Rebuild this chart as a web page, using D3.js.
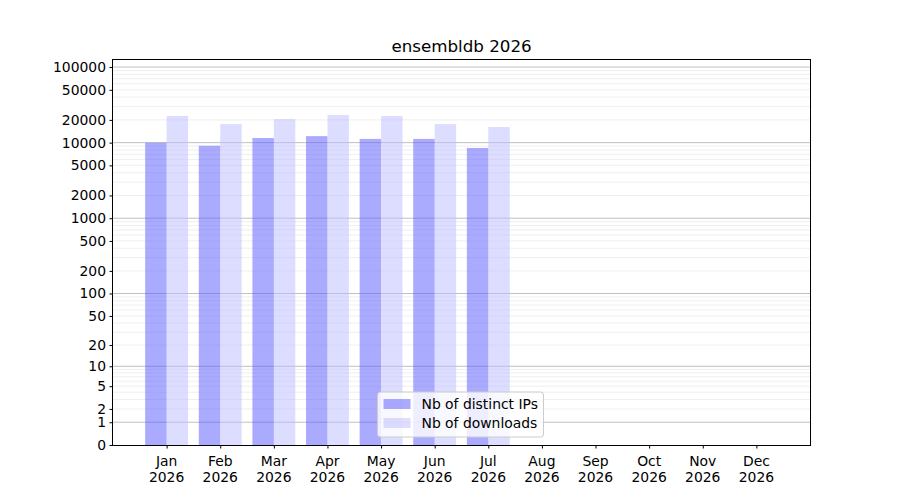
<!DOCTYPE html>
<html>
<head>
<meta charset="utf-8">
<script src="https://cdn.jsdelivr.net/npm/d3@7"></script>
<style>
  body { margin: 0; background: #fff; }
  text { font-family: "DejaVu Sans", sans-serif; fill: #000; }
</style>
</head>
<body>
<div id="chart"></div>
<script>
// Monthly download stats
const months = ['Jan', 'Feb', 'Mar', 'Apr', 'May', 'Jun', 'Jul', 'Aug', 'Sep', 'Oct', 'Nov', 'Dec'];
const year = '2026';
const distinctIPs = [9980, 9100, 11500, 12200, 11200, 11200, 8500];
const downloads = [22500, 17600, 20500, 23200, 22500, 17600, 16100];
const yTicks = [0, 1, 2, 5, 10, 20, 50, 100, 200, 500, 1000, 2000, 5000, 10000, 20000, 50000, 100000];
const majorGrid = [1, 10, 100, 1000, 10000, 100000];

const W = 900, H = 500;
const margin = { top: 60, right: 90, bottom: 55, left: 113 };
const innerW = W - margin.left - margin.right;
const innerH = H - margin.top - margin.bottom;

const svg = d3.select('#chart').append('svg')
  .attr('width', W)
  .attr('height', H);

const g = svg.append('g')
  .attr('transform', `translate(${margin.left},${margin.top})`);

// x: month index 1..12, axis spans 0..13
const x = d3.scaleLinear().domain([0, 13]).range([0, innerW]);
// y: log10(1 + v)
const y = d3.scaleSymlog().constant(1).domain([0, 124000]).range([innerH, 0]);

// Minor grid (2..9 x 10^k)
const minorGrid = [];
for (let k = 0; k <= 5; k++) {
  for (let m = 2; m <= 9; m++) {
    const v = m * Math.pow(10, k);
    if (v < 124000) minorGrid.push(v);
  }
}
g.append('g').selectAll('line')
  .data(minorGrid)
  .join('line')
  .attr('x1', 0).attr('x2', innerW)
  .attr('y1', d => y(d)).attr('y2', d => y(d))
  .attr('stroke', '#ebebeb')
  .attr('stroke-width', 0.8);

g.append('g').selectAll('line')
  .data(majorGrid)
  .join('line')
  .attr('x1', 0).attr('x2', innerW)
  .attr('y1', d => y(d)).attr('y2', d => y(d))
  .attr('stroke', '#b0b0b0')
  .attr('stroke-width', 0.8);

// Bars
const bw = x(0.4) - x(0);
g.append('g').selectAll('rect')
  .data(distinctIPs)
  .join('rect')
  .attr('x', (d, i) => x(i + 1 - 0.4))
  .attr('y', d => y(d))
  .attr('width', bw)
  .attr('height', d => innerH - y(d))
  .attr('fill', 'rgba(85, 85, 255, 0.5)');

g.append('g').selectAll('rect')
  .data(downloads)
  .join('rect')
  .attr('x', (d, i) => x(i + 1))
  .attr('y', d => y(d))
  .attr('width', bw)
  .attr('height', d => innerH - y(d))
  .attr('fill', 'rgba(187, 187, 255, 0.5)');

// Frame
g.append('rect')
  .attr('x', -0.5).attr('y', -0.5)
  .attr('width', innerW + 1).attr('height', innerH + 1)
  .attr('fill', 'none').attr('stroke', '#000').attr('stroke-width', 1)
  .attr('shape-rendering', 'crispEdges');

// Y axis
const yAxis = g.append('g')
  .call(d3.axisLeft(y).tickValues(yTicks).tickFormat(d3.format('d')).tickSize(3.5).tickPadding(3.5));
yAxis.select('.domain').remove();
yAxis.selectAll('text').style('font-size', '13.9px').style('font-family', '"DejaVu Sans", sans-serif');

// X axis
const xAxis = g.append('g')
  .attr('transform', `translate(0,${innerH})`)
  .call(d3.axisBottom(x).tickValues(d3.range(1, 13)).tickFormat('').tickSize(3.5));
xAxis.select('.domain').remove();

const xl = g.append('g').selectAll('text')
  .data(months)
  .join('text')
  .attr('x', (d, i) => x(i + 1))
  .attr('y', innerH + 21)
  .attr('text-anchor', 'middle')
  .style('font-size', '13.9px');
xl.append('tspan').attr('x', (d, i) => x(i + 1)).text(d => d);
xl.append('tspan').attr('x', (d, i) => x(i + 1)).attr('dy', 15.5).text(year);

// Title
svg.append('text')
  .attr('x', margin.left + innerW / 2)
  .attr('y', margin.top - 8)
  .attr('text-anchor', 'middle')
  .style('font-size', '16.7px')
  .text('ensembldb 2026');

// Legend (lower center)
const legendItems = [
  { label: 'Nb of distinct IPs', fill: 'rgba(85, 85, 255, 0.5)' },
  { label: 'Nb of downloads', fill: 'rgba(187, 187, 255, 0.5)' }
];
const lw = 166, lh = 45;
const lg = g.append('g')
  .attr('transform', `translate(${innerW / 2 - lw / 2 - 1},${innerH - lh - 8})`);
lg.append('rect')
  .attr('width', lw).attr('height', lh)
  .attr('rx', 3)
  .attr('fill', 'rgba(255,255,255,0.8)')
  .attr('stroke', '#cccccc');
legendItems.forEach((it, i) => {
  lg.append('rect')
    .attr('x', 6).attr('y', 7 + i * 19)
    .attr('width', 27).attr('height', 10)
    .attr('fill', it.fill);
  lg.append('text')
    .attr('x', 44).attr('y', 12 + i * 19)
    .attr('dy', '0.35em')
    .style('font-size', '13.9px')
    .text(it.label);
});
</script>
</body>
</html>
